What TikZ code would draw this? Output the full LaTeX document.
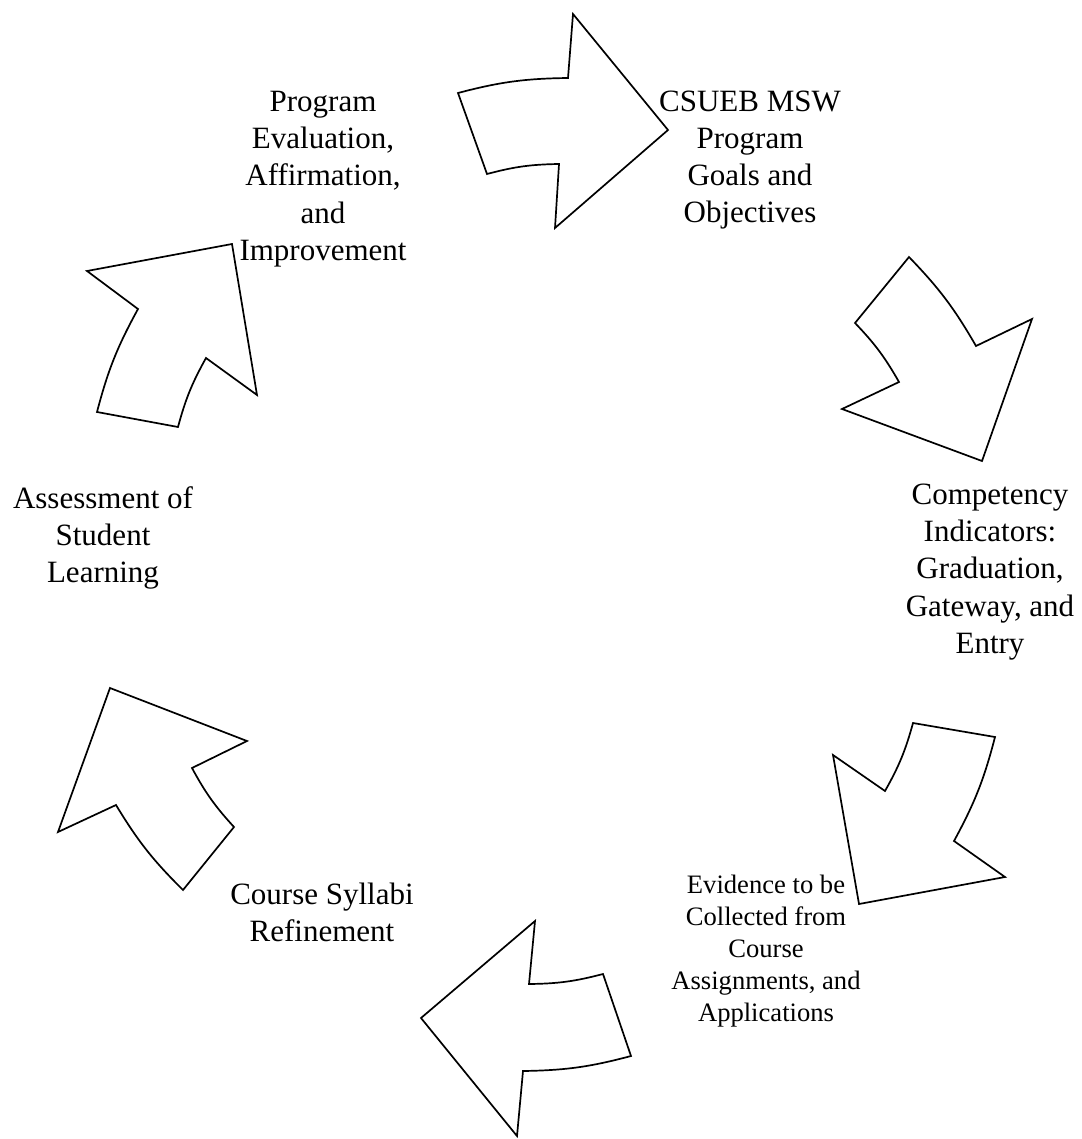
\documentclass[tikz,border=0pt]{standalone}
\usepackage{fontspec}
\setmainfont{Liberation Serif}

\begin{document}
\begin{tikzpicture}[
	x=0.5pt, y=-0.5pt,
	step label/.style={align=center, font=\fontsize{15.5}{18.6}\selectfont, inner sep=0pt},
	small label/.style={align=center, font=\fontsize{13.3}{16}\selectfont, inner sep=0pt},
	cycle arrow/.style={draw, line width=0.85pt, line join=miter, fill=white},
	]
	
	\useasboundingbox (0,0) rectangle (1081,1139);
	
	%-----------------------
	% Stage labels
	%-----------------------
	\node[step label] (eval) at (323,179) {Program\\Evaluation,\\Affirmation,\\and\\Improvement};
	\node[step label] (goals) at (750,160) {CSUEB MSW\\Program\\Goals and\\Objectives};
	\node[step label] (comp) at (990,572) {Competency\\Indicators:\\Graduation,\\Gateway, and\\Entry};
	\node[small label] (evid) at (766,951) {Evidence to be\\Collected from\\Course\\Assignments, and\\Applications};
	\node[step label] (syll) at (322,912) {Course Syllabi\\Refinement};
	\node[step label] (assess) at (103,538) {Assessment of\\Student\\Learning};
	
	%-----------------------
	% Block arrows around the cycle
	%-----------------------
	% top, pointing right
	\draw[cycle arrow] (458,93) to[bend left=7] (568,78) -- (573,14) -- (668,130)
		-- (555,228) -- (559,164) to[bend right=7] (487,174) -- cycle;
	% upper right, pointing down
	\draw[cycle arrow] (909,257) to[bend left=7] (976,346) -- (1032,319) -- (982,461)
		-- (842,409) -- (899,382) to[bend right=7] (855,323) -- cycle;
	% lower right, pointing down-left
	\draw[cycle arrow] (913,723) -- (995,737) to[bend left=7] (954,841) -- (1005,877)
		-- (859,904) -- (833,755) -- (885,791) to[bend right=7] cycle;
	% bottom, pointing left
	\draw[cycle arrow] (421,1018) -- (535,921) -- (529,984) to[bend right=7] (603,974)
		-- (631,1056) to[bend left=7] (523,1071) -- (517,1136) -- cycle;
	% lower left, pointing up
	\draw[cycle arrow] (110,688) -- (247,741) -- (192,768) to[bend right=7] (234,827)
		-- (183,890) to[bend left=7] (116,805) -- (58,832) -- cycle;
	% upper left, pointing up-right
	\draw[cycle arrow] (232,244) -- (87,271) -- (138,309) to[bend right=7] (97,412)
		-- (178,427) to[bend left=7] (206,358) -- (257,395) -- cycle;
	
\end{tikzpicture}
\end{document}
